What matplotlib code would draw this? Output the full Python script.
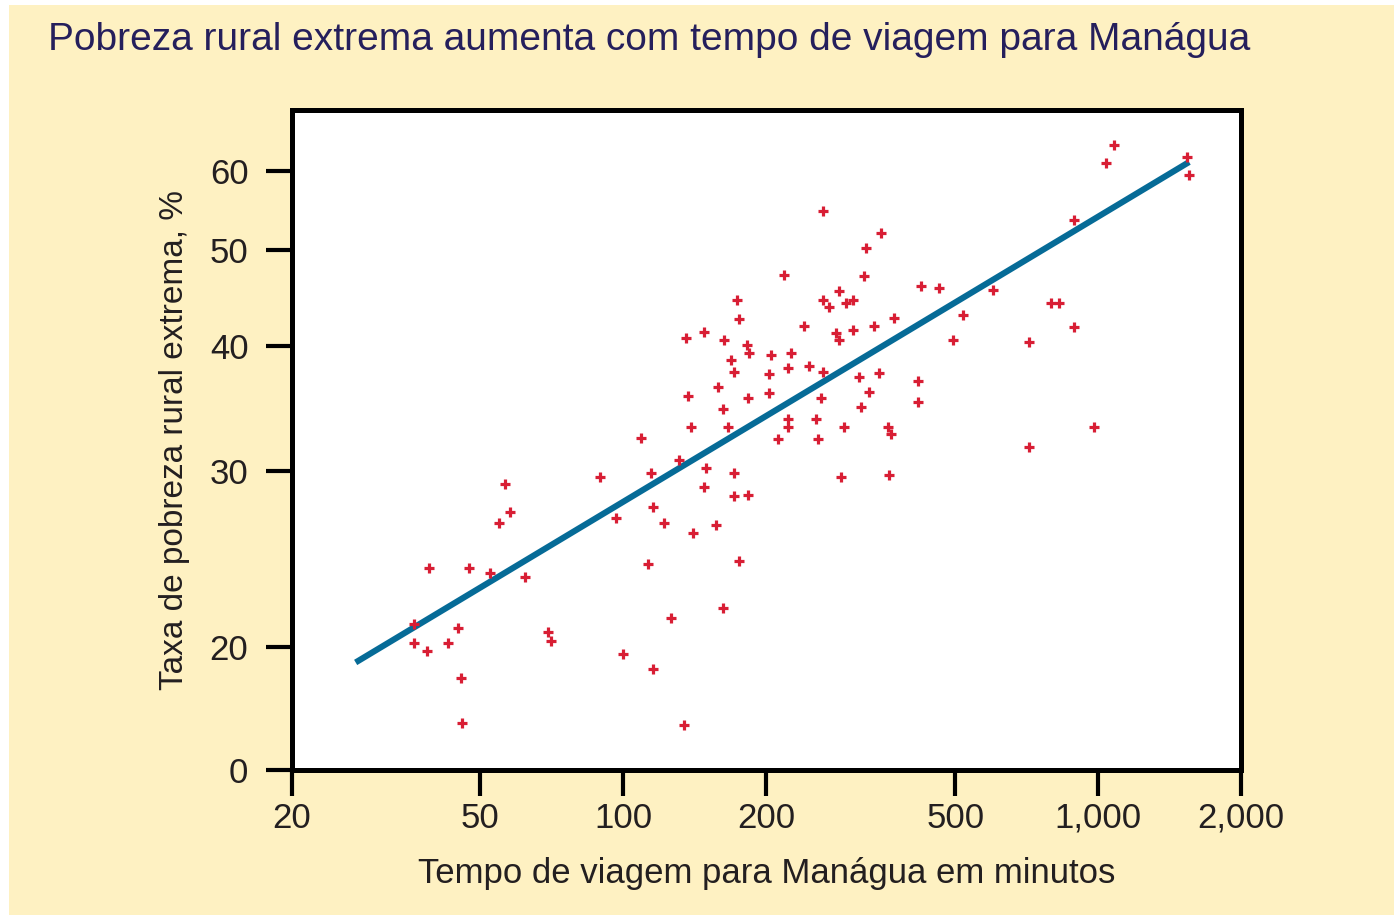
import matplotlib
matplotlib.use("Agg")
import matplotlib.pyplot as plt
from matplotlib.patches import Rectangle
from matplotlib.ticker import FixedLocator, FixedFormatter, NullLocator

# ---- data ----
travel_min = [
    38.9, 47.4, 36.3, 36.3, 38.5, 42.8, 44.8, 45.6, 45.8, 52.5, 62.0, 54.6, 57.6, 56.2,
    69.3, 70.3, 89.1, 96.3, 99.7,
    108.8, 112.5, 114.2, 115.3, 115.3, 121.6, 125.8, 130.8, 134.0, 135.3, 136.6, 138.6,
    140.0, 147.7, 149.1, 147.7, 156.5, 158.0, 161.9, 161.9, 162.7, 165.9, 168.3, 170.8,
    170.8, 170.8, 173.3, 175.0, 175.0, 181.9, 183.7, 182.8, 182.8,
    202.4, 202.4, 204.4, 211.5, 217.7, 222.0, 222.0, 222.0, 225.3, 239.9, 245.8, 254.3,
    256.8, 260.6, 263.1, 263.1, 263.1, 270.9, 284.3, 294.2, 304.3, 280.2, 284.3, 304.3,
    287.1, 291.3, 313.3, 316.4, 321.0, 324.1, 328.9, 337.0, 345.2, 348.6, 360.7, 366.0,
    362.5, 371.4, 417.2, 417.2, 423.3, 462.0,
    494.4, 519.0, 600.4, 715.5, 715.5, 796.0, 827.6, 890.0, 890.0, 980.8, 1040.0, 1081.0,
    1540.0, 1555.0,
]
poverty_pct = [
    24.0, 24.0, 21.1, 20.2, 19.8, 20.2, 20.9, 18.6, 16.8, 23.7, 23.5, 26.6, 27.3, 29.1,
    20.7, 20.3, 29.6, 26.9, 19.7,
    32.4, 24.2, 29.85, 27.6, 19.0, 26.6, 21.4, 30.8, 16.7, 40.8, 35.7, 33.2,
    26.0, 41.4, 30.2, 28.9, 26.5, 36.4, 34.6, 21.9, 40.6, 33.2, 38.8, 37.7,
    29.85, 28.3, 44.5, 42.6, 24.4, 40.1, 39.4, 35.5, 28.4,
    37.5, 35.9, 39.2, 32.3, 47.2, 38.1, 33.8, 33.2, 39.4, 41.9, 38.2, 33.8,
    32.3, 35.5, 54.6, 37.7, 44.5, 43.8, 45.5, 44.2, 44.5, 41.3, 40.6, 41.5,
    29.6, 33.2, 37.3, 34.8, 47.1, 50.2, 36.0, 41.9, 37.6, 52.0, 33.2, 32.7,
    29.75, 42.7, 36.9, 35.2, 46.0, 45.8,
    40.6, 43.0, 45.6, 40.4, 31.7, 44.2, 44.2, 53.6, 41.8, 33.2, 61.1, 63.7,
    61.9, 59.4,
]
fit_x = [27.3, 1555.0]
fit_y = [19.3, 61.2]

x_ticks = [20, 50, 100, 200, 500, 1000, 2000]
x_ticklabels = ["20", "50", "100", "200", "500", "1,000", "2,000"]
y_ticks = [15.06, 20, 30, 40, 50, 60]
y_ticklabels = ["0", "20", "30", "40", "50", "60"]

title = "Pobreza rural extrema aumenta com tempo de viagem para Manágua"
xlabel = "Tempo de viagem para Manágua em minutos"
ylabel = "Taxa de pobreza rural extrema, %"

# ---- style ----
FONT = ["Liberation Sans Narrow", "Liberation Sans", "DejaVu Sans"]
plt.rcParams["font.family"] = FONT
BEIGE = "#fef1c2"
TEXT = "#231f20"
TITLE_C = "#251f5c"
RED = "#d81e34"
BLUE = "#066b97"

W, H = 1394, 915
fig = plt.figure(figsize=(W / 100, H / 100), dpi=100, facecolor="white")
fig.patches.append(Rectangle((9 / W, 0), 1 - 9 / W, 1 - 5 / H, transform=fig.transFigure,
                             facecolor=BEIGE, edgecolor="none", zorder=-10))

ax = fig.add_axes([291.5 / W, 1 - 770 / H, (1241 - 291.5) / W, (770 - 110) / H])
ax.set_facecolor("white")
ax.set_xscale("log")
ax.set_yscale("log")
ax.set_xlim(20, 2000)
ax.set_ylim(15.06, 69.0)

ax.plot(fit_x, fit_y, color=BLUE, lw=4.4, solid_capstyle="butt", zorder=2)
ax.plot(travel_min, poverty_pct, linestyle="none", marker="+", ms=6.5, mew=2.3,
        color=RED, zorder=3)

ax.xaxis.set_major_locator(FixedLocator(x_ticks))
ax.xaxis.set_major_formatter(FixedFormatter(x_ticklabels))
ax.xaxis.set_minor_locator(NullLocator())
ax.yaxis.set_major_locator(FixedLocator(y_ticks))
ax.yaxis.set_major_formatter(FixedFormatter(y_ticklabels))
ax.yaxis.set_minor_locator(NullLocator())

for s in ax.spines.values():
    s.set_linewidth(3.6)
    s.set_color("black")

ax.tick_params(axis="both", direction="out", length=19, width=3, color="black",
               labelsize=25, labelcolor=TEXT)
ax.tick_params(axis="x", pad=4)
ax.tick_params(axis="y", pad=12)

ax.set_xlabel(xlabel, fontsize=25, color=TEXT, labelpad=16)
ax.set_ylabel(ylabel, fontsize=24, color=TEXT, labelpad=14)

fig.text(48 / W, 1 - 40 / H, title, fontsize=28, color=TITLE_C, ha="left", va="center")

fig.savefig("out.png", dpi=100, facecolor=fig.get_facecolor())
